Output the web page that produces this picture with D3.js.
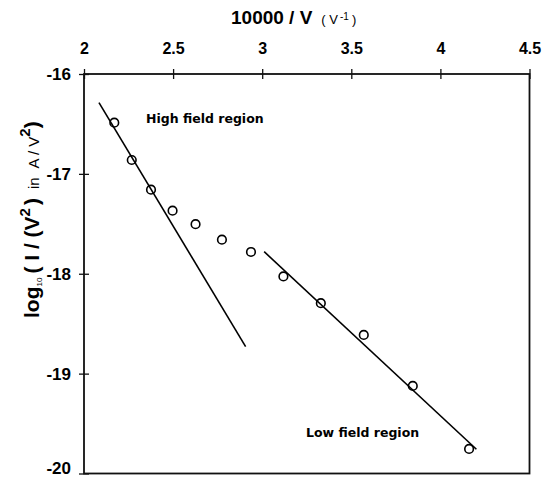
<!DOCTYPE html>
<html>
<head>
<meta charset="utf-8">
<script src="https://cdn.jsdelivr.net/npm/d3@7"></script>
<style>
  body { margin: 0; background: #fff; }
  svg { display: block; font-family: "Liberation Sans", Arial, sans-serif; }
</style>
</head>
<body>
<div class="graphHere"></div>
<script>
// measured points, 10000/V vs log10(I/V^2)
var invV = [2.170, 2.268, 2.376, 2.497, 2.626, 2.774, 2.937, 3.119, 3.329, 3.570, 3.845, 4.161];
var logIV2 = [-16.487, -16.861, -17.158, -17.368, -17.504, -17.659, -17.782, -18.027, -18.295, -18.613, -19.123, -19.754];

// fitted lines (end points)
var highFitX = [2.084, 2.907];
var highFitY = [-16.287, -18.730];
var lowFitX = [3.011, 4.202];
var lowFitY = [-17.779, -19.757];

var xTicks = [2, 2.5, 3, 3.5, 4, 4.5];
var yTicks = [-16, -17, -18, -19, -20];

var dims = { width: 543, height: 479 };
var margin = { top: 74, left: 84, right: 13.5, bottom: 5.5 };
var w = dims.width - margin.left - margin.right;
var h = dims.height - margin.top - margin.bottom;

var svg = d3.select(".graphHere").append("svg")
  .attr("width", dims.width)
  .attr("height", dims.height);

var g = svg.append("g")
  .attr("transform", "translate(" + margin.left + "," + margin.top + ")");

var scalex = d3.scaleLinear().domain([2, 4.5]).range([0, w]);
var scaley = d3.scaleLinear().domain([-20, -16]).range([h, 0]);

// frame
g.append("rect")
  .attr("x", 0).attr("y", 0)
  .attr("width", w).attr("height", h)
  .attr("fill", "none")
  .attr("stroke", "#111")
  .attr("stroke-width", 1.8);

// top axis
var xAxis = g.append("g")
  .call(d3.axisTop(scalex).tickValues(xTicks).tickSize(5).tickFormat(d3.format("")));
xAxis.select(".domain").remove();
xAxis.selectAll(".tick line").attr("y1", -5).attr("y2", 5).attr("stroke", "#111").attr("stroke-width", 1.3);
xAxis.selectAll(".tick text")
  .attr("y", -20)
  .attr("dy", 0)
  .style("font-size", "16px")
  .style("font-weight", "bold")
  .style("font-family", "Liberation Sans, Arial, sans-serif")
  .attr("fill", "#000");

// left axis
var yAxis = g.append("g")
  .call(d3.axisLeft(scaley).tickValues(yTicks).tickSize(5).tickFormat(d3.format("d")));
yAxis.select(".domain").remove();
yAxis.selectAll(".tick line").attr("x1", -5).attr("x2", 5).attr("stroke", "#111").attr("stroke-width", 1.3);
yAxis.selectAll(".tick text")
  .attr("x", -13)
  .attr("dy", function(d){ return d === -20 ? "0.02em" : "0.32em"; })
  .style("font-size", "17px")
  .style("font-weight", "bold")
  .style("font-family", "Liberation Sans, Arial, sans-serif")
  .attr("fill", "#000")
  .text(function(d){ return "-" + Math.abs(d); });

// fit lines
var line = d3.line().x(function(d){ return scalex(d[0]); }).y(function(d){ return scaley(d[1]); });
g.append("path")
  .datum(d3.zip(highFitX, highFitY))
  .attr("d", line)
  .attr("fill", "none").attr("stroke", "#000").attr("stroke-width", 1.6);
g.append("path")
  .datum(d3.zip(lowFitX, lowFitY))
  .attr("d", line)
  .attr("fill", "none").attr("stroke", "#000").attr("stroke-width", 1.6);

// data points
g.selectAll("circle.pt")
  .data(d3.zip(invV, logIV2))
  .enter().append("circle")
  .attr("class", "pt")
  .attr("cx", function(d){ return scalex(d[0]); })
  .attr("cy", function(d){ return scaley(d[1]); })
  .attr("r", 4.3)
  .attr("fill", "none")
  .attr("stroke", "#000")
  .attr("stroke-width", 1.6);

// annotations
g.append("text")
  .attr("x", 146 - margin.left).attr("y", 123 - margin.top)
  .style("font-family", "DejaVu Sans, Verdana, sans-serif")
  .style("font-weight", "bold")
  .style("font-size", "12.5px")
  .text("High field region");
g.append("text")
  .attr("x", 306 - margin.left).attr("y", 437 - margin.top)
  .style("font-family", "DejaVu Sans, Verdana, sans-serif")
  .style("font-weight", "bold")
  .style("font-size", "12.5px")
  .text("Low field region");

// x title
var xt = svg.append("text").attr("x", 231).attr("y", 24);
xt.append("tspan").style("font-weight", "bold").style("font-size", "19px").text("10000 / V");
xt.append("tspan").attr("dx", 9).style("font-size", "13px").text("( V");
xt.append("tspan").attr("dx", 2).attr("dy", -4).style("font-size", "10px").text("-1");
xt.append("tspan").attr("dx", 3).attr("dy", 4).style("font-size", "13px").text(")");

// y title
var yt = svg.append("text")
  .attr("transform", "translate(39,318) rotate(-90)");
yt.append("tspan").style("font-weight", "bold").style("font-size", "21px").text("log");
yt.append("tspan").attr("dy", 3).style("font-size", "8px").text("10");
yt.append("tspan").attr("dy", -3).attr("dx", 4).style("font-weight", "bold").style("font-size", "21px").text("( I / (V");
yt.append("tspan").attr("dy", -9).style("font-weight", "bold").style("font-size", "15px").text("2");
yt.append("tspan").attr("dy", 9).attr("dx", 3).style("font-weight", "bold").style("font-size", "21px").text(")");
yt.append("tspan").attr("dx", 9).style("font-size", "15px").text("in");
yt.append("tspan").attr("dx", 9).style("font-size", "15px").text("A / V");
yt.append("tspan").attr("dy", -9).style("font-weight", "bold").style("font-size", "15px").text("2");
yt.append("tspan").attr("dy", 9).style("font-weight", "bold").style("font-size", "21px").text(")");
</script>
</body>
</html>
